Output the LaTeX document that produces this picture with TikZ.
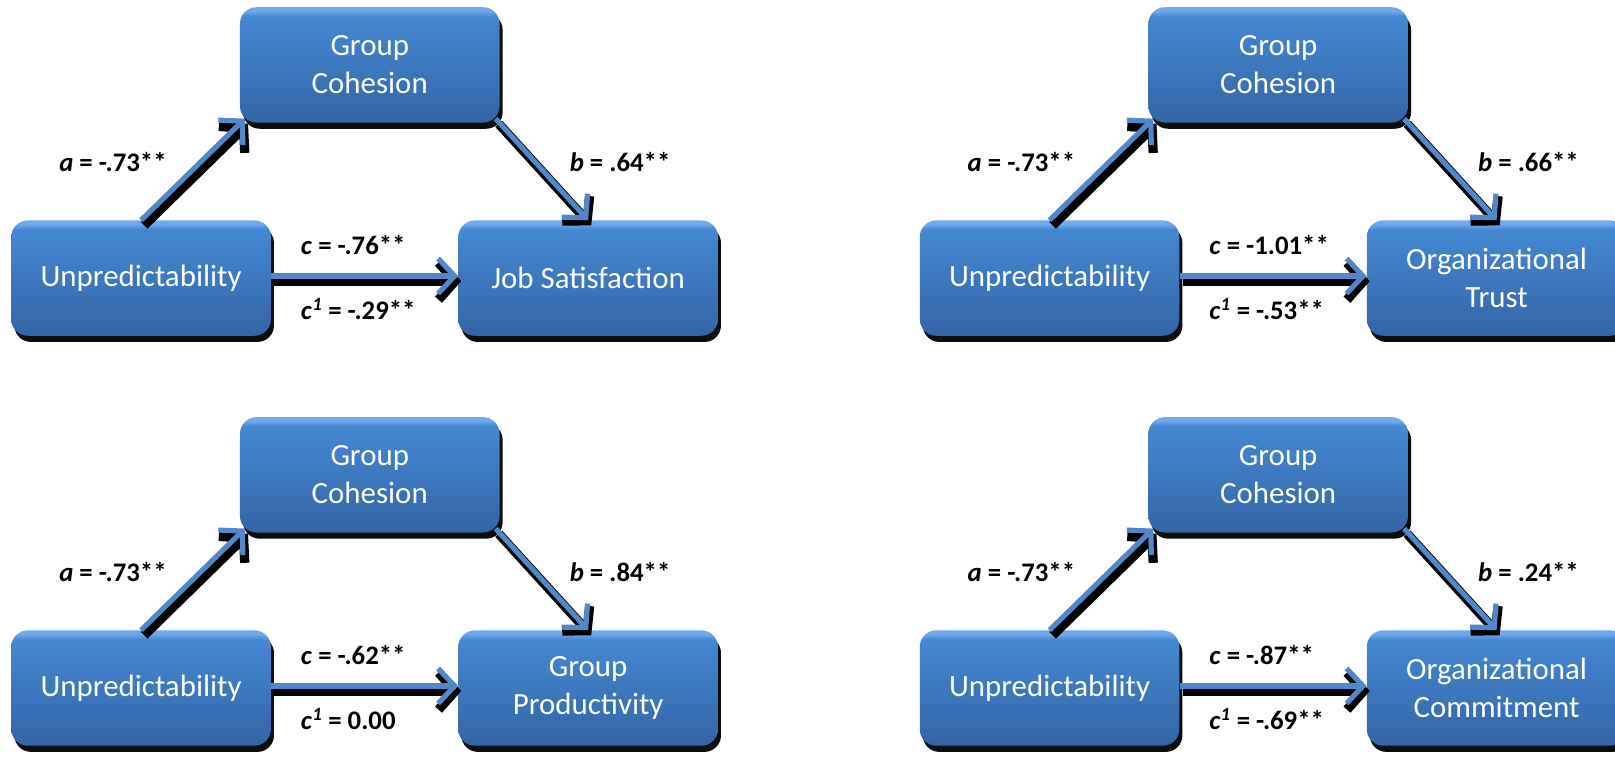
\documentclass[tikz,border=0pt]{standalone}
\usepackage{fontspec}
\setmainfont{Carlito}
\usetikzlibrary{arrows.meta,shadows}
\definecolor{btop}{RGB}{112,170,236}
\definecolor{bup}{RGB}{68,135,210}
\definecolor{bbot}{RGB}{52,101,166}
\definecolor{arblue}{RGB}{82,136,202}
\pgfdeclareverticalshading{boxshade}{100bp}{color(0bp)=(bbot); color(25bp)=(bbot); color(71bp)=(bup); color(73.5bp)=(btop); color(75bp)=(btop); color(100bp)=(btop)}
\tikzset{
  medbox/.style={rounded corners=16pt, shading=boxshade, minimum width=252pt, minimum height=112pt,
    inner sep=0pt, text=white, align=center, font=\fontsize{30}{37}\selectfont,
    drop shadow={shadow xshift=3pt, shadow yshift=-6pt, opacity=0.95, fill=black}},
  medarr/.style={draw=arblue, line width=5pt, -{Straight Barb[length=16pt,width=34pt]}},
  medsh/.style={draw=black, line width=9pt, -{Straight Barb[length=16pt,width=36pt]},
    transform canvas={shift={(3pt,-5pt)}}},
  medlab/.style={font=\fontsize{26}{30}\selectfont\bfseries, inner sep=0pt}
}
\newcommand\medpanel[7]{%
\begin{scope}[shift={(#1,#2)}, name prefix=#3-]
  \node[medbox] (gc) at (359,63) {Group\\Cohesion};
  \node[medbox] (un) at (137,270) {Unpredictability};
  \node[medbox] (out) at (571,270) {#4};
  \coordinate (aS) at (un.north);
  \coordinate (aE) at ([shift={(5pt,4pt)}]gc.south west);
  \coordinate (bS) at ([shift={(-4pt,4pt)}]gc.south east);
  \coordinate (bE) at (out.north);
  \coordinate (cS) at ([yshift=2pt]un.east);
  \coordinate (cE) at ([yshift=2pt]out.west);
  \draw[medsh] (aS) -- (aE);
  \draw[medsh] (bS) -- (bE);
  \draw[medsh] (cS) -- (cE);
  \draw[medarr] (aS) -- (aE);
  \draw[medarr] (bS) -- (bE);
  \draw[medarr] (cS) -- (cE);
  \node[medlab, anchor=east] (la) at (162,157) {\textit{a} = -.73**};
  \node[medlab, anchor=west] (lb) at (553,157) {\textit{b} = #5};
  \node[medlab, anchor=west] (lc) at (292,238) {\textit{c} = #6};
  \node[medlab, anchor=west] (lc1) at (292,300) {\textit{c}\textsuperscript{\textit{1}} = #7};
\end{scope}}
\begin{document}
\begin{tikzpicture}[x=1pt,y=-1pt]
\useasboundingbox (0,0) rectangle (1568,734);
\clip (0,0) rectangle (1568,734);
\medpanel{0}{0}{p1}{Job Satisfaction}{.64**}{-.76**}{-.29**}
\medpanel{882}{0}{p2}{Organizational\\Trust}{.66**}{-1.01**}{-.53**}
\medpanel{0}{398}{p3}{Group\\Productivity}{.84**}{-.62**}{0.00}
\medpanel{882}{398}{p4}{Organizational\\Commitment}{.24**}{-.87**}{-.69**}
\end{tikzpicture}
\end{document}
